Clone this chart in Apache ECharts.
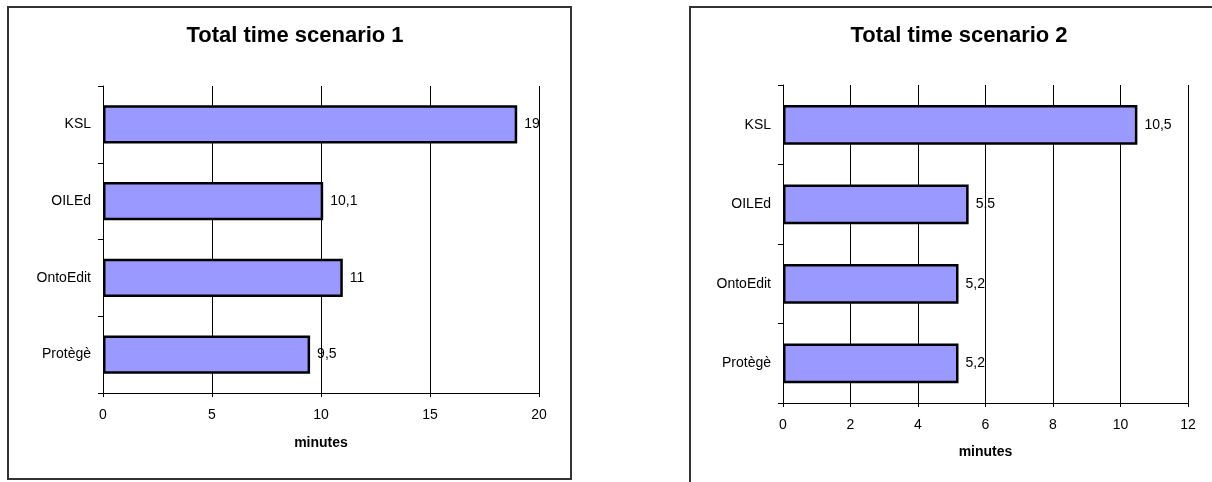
<!DOCTYPE html>
<html>
<head>
<meta charset="utf-8">
<script src="https://cdn.jsdelivr.net/npm/echarts@6/dist/echarts.min.js"></script>
<style>
  html, body { margin: 0; padding: 0; background: #fff; }
  #chart { width: 1212px; height: 482px; }
</style>
</head>
<body>
<div id="chart"></div>
<script>
// two side-by-side horizontal bar charts, Excel-like look

const tools = ['KSL', 'OILEd', 'OntoEdit', 'Protègè'];
const scenario1 = [19, 10.1, 11, 9.5];
const scenario2 = [10.5, 5.5, 5.2, 5.2];
const titles = ['Total time scenario 1', 'Total time scenario 2'];
const axisName = 'minutes';
const axisMax = [20, 12];
const axisStep = [5, 2];

const FONT = '"Liberation Sans", Arial, sans-serif';
const BAR_COLOR = '#9999ff';

const chart = echarts.init(document.getElementById('chart'), null, { renderer: 'canvas' });

// decimal comma like the original
const commaFmt = (v) => String(v).replace('.', ',');

function valueAxis(i, nameGap) {
  return {
    type: 'value',
    gridIndex: i,
    min: 0,
    max: axisMax[i],
    interval: axisStep[i],
    name: axisName,
    nameLocation: 'middle',
    nameGap: nameGap,
    nameTextStyle: { fontFamily: FONT, fontSize: 14, fontWeight: 'bold', color: '#000' },
    axisLine: { show: true, lineStyle: { color: '#000', width: 1 } },
    axisTick: { show: true, length: 4, lineStyle: { color: '#000' } },
    axisLabel: { margin: 15, fontFamily: FONT, fontSize: 14, color: '#000' },
    splitLine: { show: true, lineStyle: { color: '#000', width: 1 } },
  };
}

function catAxis(i) {
  return {
    type: 'category',
    gridIndex: i,
    data: tools,
    inverse: true,
    axisLine: { show: true, lineStyle: { color: '#000', width: 1 } },
    axisTick: { show: true, length: 5, lineStyle: { color: '#000' } },
    axisLabel: { margin: 12, fontFamily: FONT, fontSize: 14, color: '#000' },
    splitLine: { show: false },
  };
}

function barSeries(i, data) {
  return {
    type: 'bar',
    xAxisIndex: i,
    yAxisIndex: i,
    data: data,
    barWidth: '50%',
    itemStyle: { color: BAR_COLOR, borderColor: '#000', borderWidth: 2.5 },
    label: {
      show: true,
      position: 'right',
      distance: 7,
      fontFamily: FONT,
      fontSize: 14,
      color: '#000',
      formatter: (p) => commaFmt(p.value),
    },
    silent: true,
  };
}

chart.setOption({
  backgroundColor: '#fff',
  animation: false,
  title: [
    { text: titles[0], left: 290, top: 20, textAlign: 'center',
      textStyle: { fontFamily: FONT, fontSize: 22, fontWeight: 'bold', color: '#000' } },
    { text: titles[1], left: 954, top: 20, textAlign: 'center',
      textStyle: { fontFamily: FONT, fontSize: 22, fontWeight: 'bold', color: '#000' } },
  ],
  grid: [
    { left: 103, top: 86, width: 436, height: 307, outerBoundsMode: 'none' },
    { left: 783, top: 85, width: 405, height: 318, outerBoundsMode: 'none' },
  ],
  xAxis: [valueAxis(0, 43), valueAxis(1, 42)],
  yAxis: [catAxis(0), catAxis(1)],
  series: [barSeries(0, scenario1), barSeries(1, scenario2)],
  graphic: [
    // chart frames
    { type: 'rect', z: -1, shape: { x: 8, y: 7, width: 563, height: 472 },
      style: { fill: null, stroke: '#333', lineWidth: 2 } },
    { type: 'rect', z: -1, shape: { x: 690, y: 7, width: 600, height: 520 },
      style: { fill: null, stroke: '#333', lineWidth: 2 } },
  ],
});
</script>
</body>
</html>
